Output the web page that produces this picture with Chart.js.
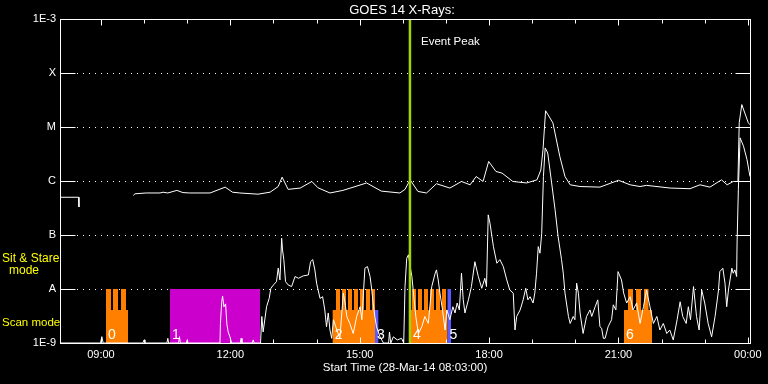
<!DOCTYPE html>
<html><head><meta charset="utf-8">
<script src="https://cdn.jsdelivr.net/npm/chart.js@4/dist/chart.umd.min.js"></script>
<style>html,body{margin:0;padding:0;background:#000;}canvas{display:block;}</style>
</head><body>
<canvas id="c" width="768" height="384"></canvas>
<script>
// ---- data (time in decimal hours of 28-Mar-14, flux in W/m^2) ----
const longTimes = [8.05,8.48,8.49,8.50,9.75,9.79,10.05,10.37,10.44,10.55,10.76,10.90,11.06,11.53,11.88,12.05,12.22,12.64,12.92,13.11,13.20,13.34,13.62,13.89,14.03,14.31,14.61,15.16,15.50,15.93,16.05,16.17,16.35,16.55,16.78,17.09,17.36,17.56,17.70,17.86,17.99,18.16,18.30,18.55,18.87,19.11,19.20,19.25,19.31,19.48,19.64,19.76,19.88,20.11,20.57,21.00,21.27,21.50,21.65,22.20,22.66,22.89,23.12,23.39,23.52,23.66,23.77,23.80,23.86,24.01,24.05];
const longFlux = [5.0e-7,5.0e-7,3.3e-7,null,5.4e-7,5.8e-7,6.0e-7,6.0e-7,6.2e-7,6.0e-7,6.7e-7,6.1e-7,6.0e-7,6.0e-7,7.7e-7,6.2e-7,6.0e-7,5.7e-7,6.2e-7,7.9e-7,1.18e-6,7.0e-7,7.4e-7,9.8e-7,7.5e-7,6.0e-7,6.7e-7,9.2e-7,6.5e-7,6.0e-7,7.0e-7,1.05e-6,6.4e-7,6.0e-7,8.9e-7,7.4e-7,9.8e-7,8.5e-7,1.21e-6,9.8e-7,2.3e-6,1.5e-6,1.4e-6,9.8e-7,9.2e-7,1.05e-6,1.6e-6,3.8e-6,2.0e-5,1.19e-5,2.85e-6,1.21e-6,8.5e-7,7.9e-7,7.7e-7,1.03e-6,8.5e-7,7.9e-7,8.3e-7,7.4e-7,7.2e-7,8.5e-7,7.7e-7,1.05e-6,8.5e-7,9.8e-7,9.8e-7,1.2e-5,2.6e-5,1.2e-5,1.1e-5];

const shortTimes = [8.05,8.99,9.02,9.05,9.97,10.00,10.02,10.53,10.55,10.57,10.80,10.82,10.84,10.98,11.00,11.02,11.76,11.77,11.80,11.82,11.85,11.89,11.92,11.95,11.99,12.03,12.23,12.25,12.27,12.51,12.53,12.55,12.70,12.73,12.76,12.84,12.90,12.94,13.00,13.07,13.11,13.15,13.19,13.21,13.24,13.28,13.34,13.42,13.50,13.58,13.69,13.81,13.86,13.91,13.96,14.00,14.08,14.14,14.19,14.23,14.27,14.31,14.35,14.39,14.47,14.54,14.62,14.66,14.70,14.77,14.85,14.93,15.01,15.05,15.12,15.18,15.24,15.28,15.31,15.35,15.39,15.47,15.55,15.67,15.69,15.72,15.78,15.87,15.97,16.02,16.05,16.09,16.13,16.17,16.21,16.24,16.30,16.36,16.44,16.51,16.59,16.67,16.75,16.78,16.82,16.86,16.92,16.98,17.02,17.09,17.16,17.21,17.26,17.31,17.36,17.40,17.44,17.52,17.59,17.67,17.75,17.83,17.90,17.94,17.98,18.02,18.10,18.18,18.25,18.33,18.41,18.48,18.56,18.60,18.64,18.72,18.79,18.85,18.90,18.95,19.02,19.06,19.10,19.14,19.18,19.22,19.26,19.30,19.36,19.45,19.53,19.60,19.68,19.72,19.76,19.84,19.88,19.95,19.99,20.03,20.07,20.11,20.18,20.26,20.34,20.38,20.46,20.52,20.57,20.61,20.65,20.69,20.76,20.84,20.88,20.94,20.99,21.07,21.12,21.19,21.27,21.34,21.42,21.50,21.58,21.65,21.73,21.81,21.89,21.96,22.04,22.12,22.19,22.27,22.36,22.43,22.49,22.57,22.62,22.67,22.74,22.81,22.87,22.93,23.00,23.08,23.16,23.24,23.32,23.35,23.42,23.47,23.51,23.55,23.63,23.66,23.70,23.74,23.75,23.78,23.82,23.90,23.98,24.05];
const shortFlux = [1e-9,1e-9,1.31e-9,1e-9,1e-9,1.14e-9,1e-9,1e-9,1.22e-9,1e-9,1e-9,1.31e-9,1e-9,1e-9,1.14e-9,1e-9,1e-9,2.3e-9,5.8e-9,7.4e-9,4.7e-9,5.3e-9,2.2e-9,1.6e-9,1.3e-9,1e-9,1e-9,1.22e-9,1e-9,1e-9,1.14e-9,1e-9,1e-9,3.1e-9,1.6e-9,4.7e-9,6.7e-9,1.03e-8,1.19e-8,1.37e-8,2.43e-8,1.47e-8,8.7e-8,5.3e-8,3.5e-8,1.37e-8,1.19e-8,1.11e-8,1.7e-8,1.58e-8,1.75e-8,1.82e-8,3.2e-8,3.5e-8,2.26e-8,1.28e-8,6.7e-9,7.2e-9,4.1e-9,2.0e-9,3.6e-9,1.74e-9,1.22e-9,2.7e-9,1.74e-9,1.22e-9,8.4e-9,5.5e-9,3.1e-9,2.3e-9,1.5e-9,3.1e-9,4.7e-9,2.7e-9,2.43e-8,2.6e-8,1.7e-8,9.6e-9,5.5e-9,3.1e-9,2.0e-9,1.3e-9,1e-9,1e-9,1.6e-9,1e-9,1.3e-9,1.14e-9,1.22e-9,1e-9,1.11e-8,3.7e-8,4.3e-8,2.6e-8,1.7e-8,9.6e-9,3.1e-9,1.5e-9,2.0e-9,3.1e-9,2.3e-9,1.11e-8,1.96e-8,2.26e-8,1.47e-8,8.4e-9,4.1e-9,1.74e-9,4.1e-9,2.7e-9,4.7e-9,3.6e-9,5.5e-9,4.1e-9,1.96e-8,6.3e-9,3.6e-9,6.3e-9,1.11e-8,3.2e-8,1.7e-8,1.03e-8,1.58e-8,1.11e-8,2.36e-7,1.66e-7,6.1e-8,3.0e-8,3.5e-8,2.6e-8,1.47e-8,9.6e-9,8.4e-9,1.74e-9,3.1e-9,4.1e-9,6.3e-9,1.03e-8,6.3e-9,7.2e-9,5.5e-9,8.4e-9,1.96e-8,6.1e-8,4.6e-8,1.08e-7,1.21e-6,4.1e-6,3.3e-6,9.2e-7,2.95e-7,9.4e-8,3.5e-8,1.96e-8,8.4e-9,3.1e-9,2.3e-9,3.1e-9,2.7e-9,1.28e-8,8.4e-9,3.6e-9,1.5e-9,3.1e-9,4.1e-9,3.1e-9,4.7e-9,6.3e-9,2.0e-9,1.87e-9,1.22e-9,1.22e-9,2.0e-9,2.7e-9,5.1e-9,4.1e-9,2.1e-8,1.47e-8,8.4e-9,5.5e-9,7.2e-9,4.1e-9,5.5e-9,2.3e-9,4.7e-9,9.6e-9,4.7e-9,2.3e-9,3.1e-9,1.74e-9,2.3e-9,1.5e-9,1.74e-9,1.14e-9,2.7e-9,5.8e-9,3.1e-9,2.3e-9,4.7e-9,2.7e-9,1.11e-8,3.1e-9,1.74e-9,9.6e-9,5.5e-9,2.3e-9,1.3e-9,3.1e-9,9.6e-9,2.1e-8,2.43e-8,1.28e-8,4.7e-9,9.6e-9,2.43e-8,1.96e-8,2.26e-8,1.7e-8,7.1e-8,6.9e-7,6.3e-6,4.4e-6,2.5e-6,1.21e-6];

// observing-mode blocks [start, end] in hours
const scanOrange = [[9.117,9.627],[14.373,15.354],[16.189,17.036],[21.128,21.778]];
const stareOrange = [[9.117,9.233],[9.279,9.395],[9.465,9.580],
  [14.450,14.543],[14.589,14.682],[14.728,14.821],[14.867,14.960],[15.007,15.099],[15.146,15.238],[15.285,15.354],
  [16.212,16.305],[16.351,16.444],[16.491,16.583],[16.630,16.722],[16.769,16.862],[16.908,17.001],
  [21.221,21.337],[21.407,21.522],[21.592,21.696]];
const stareMagenta = [[10.601,12.688]];
const scanBlue = [[15.354,15.431]];
const stareBlue = [[17.036,17.117]];
const blockStarts = [9.117,10.601,14.373,15.354,16.189,17.036,21.128];
const blockLabels = ['0','1','2','3','4','5','6'];
const scanLevel = 4.1e-9, stareLevel = 1e-8, floorLevel = 1e-9;

const eventHour = 16.165;
const xTickHours = [9,10,11,12,13,14,15,16,17,18,19,20,21,22,23,24];
const xMajorHours = [9,12,15,18,21,24];
const xMajorLabels = ['09:00','12:00','15:00','18:00','21:00','00:00'];
const yTickValues = [1e-9,1e-8,1e-7,1e-6,1e-5,1e-4,1e-3];
const yTickLabels = ['1E-9','A','B','C','M','X','1E-3'];
const xMin = 8.05, xMax = 24.05;

// ---- build datasets ----
function pts(ts, vs){ return ts.map((t,i)=>({x:t,y:vs[i]})); }
function blocks(list, level){
  const d=[{x:xMin,y:floorLevel}];
  list.forEach(([s,e])=>{
    d.push({x:s,y:floorLevel},{x:s,y:level},{x:e,y:level},{x:e,y:floorLevel});
  });
  d.push({x:xMax,y:floorLevel});
  return d;
}
function blockSet(list, level, color){
  return {data:blocks(list,level), fill:'start', backgroundColor:color,
    borderWidth:0, borderColor:'rgba(0,0,0,0)', pointRadius:0};
}
const FONT = 'Liberation Sans';

const overlay = {
  id:'overlay',
  beforeDraw(chart){ const c=chart.ctx; c.save(); c.fillStyle='#000'; c.fillRect(0,0,chart.width,chart.height); c.restore(); },
  beforeDatasetsDraw(chart){
    const {ctx, chartArea:a, scales:{y}} = chart;
    ctx.save(); ctx.strokeStyle='#fff'; ctx.lineWidth=1; ctx.setLineDash([1,5]);
    yTickValues.slice(1,-1).forEach(v=>{
      const py=Math.round(y.getPixelForValue(v))+0.5;
      ctx.beginPath(); ctx.moveTo(a.left+17,py); ctx.lineTo(a.right-15,py); ctx.stroke();
    });
    ctx.restore();
  },
  afterDatasetsDraw(chart){
    const {ctx, chartArea:a, scales:{x,y}} = chart;
    ctx.save();
    ctx.strokeStyle='#fff'; ctx.lineWidth=1;
    const L=Math.round(a.left)+0.5, R=Math.round(a.right)+0.5, T=Math.round(a.top)+0.5, B=Math.round(a.bottom)+0.5;
    ctx.strokeRect(L,T,R-L,B-T);
    ctx.beginPath();
    yTickValues.forEach(v=>{
      const py=Math.round(y.getPixelForValue(v))+0.5;
      ctx.moveTo(L,py); ctx.lineTo(L+15,py);
      ctx.moveTo(R,py); ctx.lineTo(R-15,py);
    });
    xTickHours.forEach(h=>{
      const px=Math.round(x.getPixelForValue(h))+0.5;
      const len = xMajorHours.includes(h)?6:4;
      ctx.moveTo(px,B); ctx.lineTo(px,B-len);
      ctx.moveTo(px,T); ctx.lineTo(px,T+len);
    });
    ctx.stroke();
    // block labels
    ctx.fillStyle='#fff'; ctx.font='14px '+FONT; ctx.textAlign='left'; ctx.textBaseline='alphabetic';
    blockStarts.forEach((s,i)=>ctx.fillText(blockLabels[i], x.getPixelForValue(s)+2, 339));
    // texts
    ctx.font='13px '+FONT; ctx.textAlign='center'; ctx.textBaseline='middle';
    ctx.fillText('GOES 14 X-Rays:', 402, 10);
    ctx.font='11.5px '+FONT;
    ctx.fillText('Start Time (28-Mar-14 08:03:00)', 405, 368);
    ctx.textAlign='left';
    ctx.fillText('Event Peak', x.getPixelForValue(eventHour)+11, 42);
    ctx.fillStyle='#ffff00';
    ctx.font='12px '+FONT;
    ctx.fillText('Sit & Stare', 2, 259);
    ctx.textAlign='center';
    ctx.fillText('mode', 24, 271);
    ctx.textAlign='left';
    ctx.font='11.5px '+FONT;
    ctx.fillText('Scan mode', 2, 323);
    ctx.restore();
  }
};

new Chart(document.getElementById('c'), {
  type:'line',
  data:{datasets:[
    {data:[{x:eventHour,y:1e-9},{x:eventHour,y:1e-3}], borderColor:'#a2d400', borderWidth:2.5, pointRadius:0},
    {data:pts(longTimes,longFlux), borderColor:'#fff', borderWidth:1, pointRadius:0, spanGaps:false},
    {data:pts(shortTimes,shortFlux), borderColor:'#fff', borderWidth:1, pointRadius:0},
    blockSet(stareBlue, stareLevel, '#5a5aff'),
    blockSet(scanBlue, scanLevel, '#5a5aff'),
    blockSet(stareOrange, stareLevel, '#ff8000'),
    blockSet(scanOrange, scanLevel, '#ff8000'),
    blockSet(stareMagenta, stareLevel, '#cc00cc')
  ]},
  options:{
    responsive:false, animation:false, devicePixelRatio:1,
    layout:{padding:{top:19, right:18, left:0, bottom:0}},
    plugins:{legend:{display:false}, tooltip:{enabled:false}, title:{display:false}},
    elements:{line:{tension:0}},
    scales:{
      x:{type:'linear', min:xMin, max:xMax, grid:{display:false, drawTicks:false}, border:{display:false},
        afterBuildTicks:s=>{ s.ticks = xMajorHours.map(v=>({value:v})); },
        afterFit:s=>{ s.height=41; },
        ticks:{color:'#fff', font:{family:FONT, size:11}, padding:5, autoSkip:false, maxRotation:0,
          callback:(v,i)=>xMajorLabels[i]}},
      y:{type:'logarithmic', min:1e-9, max:1e-3, grid:{display:false, drawTicks:false}, border:{display:false},
        afterBuildTicks:s=>{ s.ticks = yTickValues.map(v=>({value:v})); },
        afterFit:s=>{ s.width=60; },
        ticks:{color:'#fff', font:{family:FONT, size:11}, padding:4, autoSkip:false,
          callback:(v,i)=>yTickLabels[i]}}
    }
  },
  plugins:[overlay]
});
</script>
</body></html>
